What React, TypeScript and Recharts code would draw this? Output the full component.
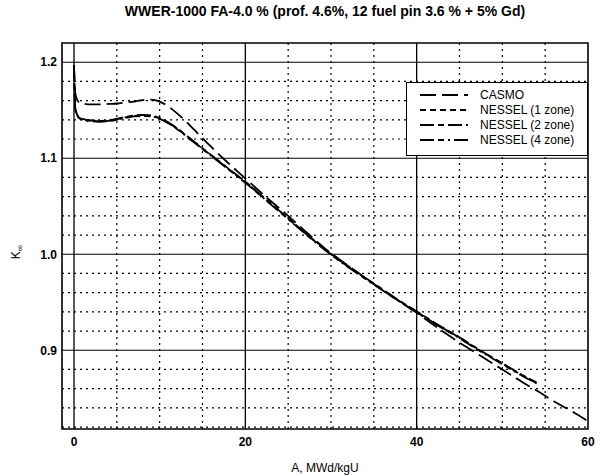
import React from "react";
import {
  LineChart,
  Line,
  XAxis,
  YAxis,
  ReferenceLine,
  ReferenceArea,
  Legend,
} from "recharts";

// burnup points, MWd/kgU
const burnup = [
  0, 0.15, 0.5, 1, 2, 3, 4, 5, 6, 7, 8, 9, 10, 11, 12, 13, 14, 16, 18, 20,
  22.5, 25, 27.5, 30, 32.5, 35, 37.5, 40, 42.5, 45, 47.5, 50, 52.5, 54, 56, 58,
  60,
];

const casmo = [
  1.197, 1.168, 1.159, 1.157, 1.156, 1.156, 1.1565, 1.157, 1.158, 1.159,
  1.1605, 1.161, 1.159, 1.154, 1.147, 1.139, 1.13, 1.112, 1.095, 1.079, 1.059,
  1.04, 1.02, 1.001, 0.985, 0.969, 0.954, 0.939, 0.923, 0.908, 0.894, 0.88,
  0.866, 0.858, 0.847, 0.837, 0.826,
];

const nessel1 = [
  1.197, 1.152, 1.143, 1.1405, 1.139, 1.1385, 1.139, 1.1405, 1.1425, 1.144,
  1.1445, 1.144, 1.1415, 1.137, 1.131, 1.124, 1.117, 1.103, 1.089, 1.075,
  1.056, 1.037, 1.018, 1.0, 0.984, 0.969, 0.954, 0.94, 0.926, 0.913, 0.899,
  0.886, 0.873, 0.866, null, null, null,
];

const nessel2 = [
  1.197, 1.153, 1.1435, 1.141, 1.1395, 1.139, 1.1395, 1.141, 1.143, 1.1445,
  1.145, 1.1445, 1.142, 1.1375, 1.1315, 1.1245, 1.1175, 1.1035, 1.0895, 1.0755,
  1.0565, 1.0375, 1.0185, 1.0005, 0.9845, 0.9695, 0.9545, 0.9405, 0.9265,
  0.9135, 0.8995, 0.8865, 0.8735, 0.8665, null, null, null,
];

const nessel4 = [
  1.197, 1.151, 1.1425, 1.14, 1.1385, 1.138, 1.1385, 1.14, 1.142, 1.1435,
  1.144, 1.1435, 1.141, 1.1365, 1.1305, 1.1235, 1.1165, 1.1025, 1.0885, 1.0745,
  1.0555, 1.0365, 1.0175, 0.9995, 0.9835, 0.9685, 0.9535, 0.9395, 0.9255,
  0.9125, 0.8985, 0.8855, 0.8725, 0.8655, null, null, null,
];

const xTicks = [0, 20, 40, 60];
const yTicks = [0.9, 1.0, 1.1, 1.2];
const majorX = [0, 20, 40];
const minorX = [5, 10, 15, 25, 30, 35, 45, 50, 55];
const majorY = [0.9, 1.0, 1.1, 1.2];
const minorY = [
  0.82, 0.84, 0.86, 0.88, 0.92, 0.94, 0.96, 0.98, 1.02, 1.04, 1.06, 1.08, 1.12,
  1.14, 1.16, 1.18,
];

const seriesNames = ["CASMO", "NESSEL (1 zone)", "NESSEL (2 zone)", "NESSEL (4 zone)"];
const seriesKeys = ["casmo", "nessel1", "nessel2", "nessel4"];
const seriesDash = ["16 6", "6 4", "14 4 6 4", "14 4 6 4 2 4"];

const X_DOMAIN: [number, number] = [-1.4, 60];
const Y_DOMAIN: [number, number] = [0.818, 1.22];

const data = burnup.map((a, i) => ({
  a,
  casmo: casmo[i],
  nessel1: nessel1[i],
  nessel2: nessel2[i],
  nessel4: nessel4[i],
}));

const FONT = "'Liberation Sans', Arial, sans-serif";

function LegendBox() {
  return (
    <div
      style={{
        width: 182,
        height: 74,
        border: "1px solid #000",
        background: "#fff",
        boxSizing: "border-box",
      }}
    >
      <svg width={180} height={72}>
        {seriesNames.map((name, i) => (
          <g key={name}>
            <line
              x1={13}
              x2={61}
              y1={12 + 15 * i}
              y2={12 + 15 * i}
              stroke="#000"
              strokeWidth={2}
              strokeDasharray={seriesDash[i]}
            />
            <text
              x={73}
              y={16 + 15 * i}
              fontFamily={FONT}
              fontSize={12}
              fill="#000"
            >
              {name}
            </text>
          </g>
        ))}
      </svg>
    </div>
  );
}

export default function App() {
  const tickStyle = { fontFamily: FONT, fontSize: 12, fontWeight: 700, fill: "#000" };
  return (
    <div style={{ position: "absolute", left: 0, top: 0, width: 600, height: 476, background: "#fff" }}>
      <div
        style={{
          position: "absolute",
          left: 62,
          width: 526,
          top: 3,
          textAlign: "center",
          fontFamily: FONT,
          fontSize: 14,
          fontWeight: 700,
          color: "#000",
          whiteSpace: "nowrap",
        }}
      >
        WWER-1000 FA-4.0 % (prof. 4.6%, 12 fuel pin 3.6 % + 5% Gd)
      </div>
      <LineChart
        width={600}
        height={476}
        data={data}
        margin={{ top: 43, right: 12, left: 12, bottom: 0 }}
      >
        {minorX.map((v) => (
          <ReferenceLine key={"mx" + v} x={v} stroke="#000" strokeDasharray="2 4" strokeWidth={1.2} />
        ))}
        {minorY.map((v) => (
          <ReferenceLine key={"my" + v} y={v} stroke="#000" strokeDasharray="2 4" strokeWidth={1.2} />
        ))}
        {majorX.map((v) => (
          <ReferenceLine key={"MX" + v} x={v} stroke="#000" strokeWidth={1.3} />
        ))}
        {majorY.map((v) => (
          <ReferenceLine key={"MY" + v} y={v} stroke="#000" strokeWidth={1.1} />
        ))}
        <XAxis
          dataKey="a"
          type="number"
          domain={X_DOMAIN}
          allowDataOverflow
          ticks={xTicks}
          tickLine={false}
          axisLine={false}
          tickSize={0}
          tickMargin={8}
          height={47}
          tick={tickStyle}
          label={{
            value: "A, MWd/kgU",
            position: "insideBottom",
            offset: 4,
            style: { fontFamily: FONT, fontSize: 12, fill: "#000" },
          }}
        />
        <YAxis
          type="number"
          domain={Y_DOMAIN}
          allowDataOverflow
          ticks={yTicks}
          tickFormatter={(v: number) => v.toFixed(1)}
          tickLine={false}
          axisLine={false}
          tickSize={0}
          tickMargin={5}
          width={50}
          tick={tickStyle}
          label={{
            content: () => (
              <text
                x={20}
                y={252}
                transform="rotate(-90 20 252)"
                textAnchor="middle"
                fontFamily={FONT}
                fontSize={12}
                fill="#000"
              >
                K<tspan fontSize={9} dy={3}>∞</tspan>
              </text>
            ),
          }}
        />
        <ReferenceArea
          x1={X_DOMAIN[0]}
          x2={X_DOMAIN[1]}
          y1={Y_DOMAIN[0]}
          y2={Y_DOMAIN[1]}
          fill="none"
          fillOpacity={0}
          stroke="#000"
          strokeWidth={1.6}
        />
        {seriesKeys.map((k, i) => (
          <Line
            key={k}
            dataKey={k}
            name={seriesNames[i]}
            type="monotone"
            stroke="#000"
            strokeWidth={1.8}
            strokeDasharray={seriesDash[i]}
            dot={false}
            activeDot={false}
            connectNulls={false}
            isAnimationActive={false}
          />
        ))}
        <Legend
          layout="horizontal"
          verticalAlign="middle"
          align="center"
          content={() => <LegendBox />}
          wrapperStyle={{ left: 406, top: 82, width: 182, height: 74 }}
        />
      </LineChart>
    </div>
  );
}
